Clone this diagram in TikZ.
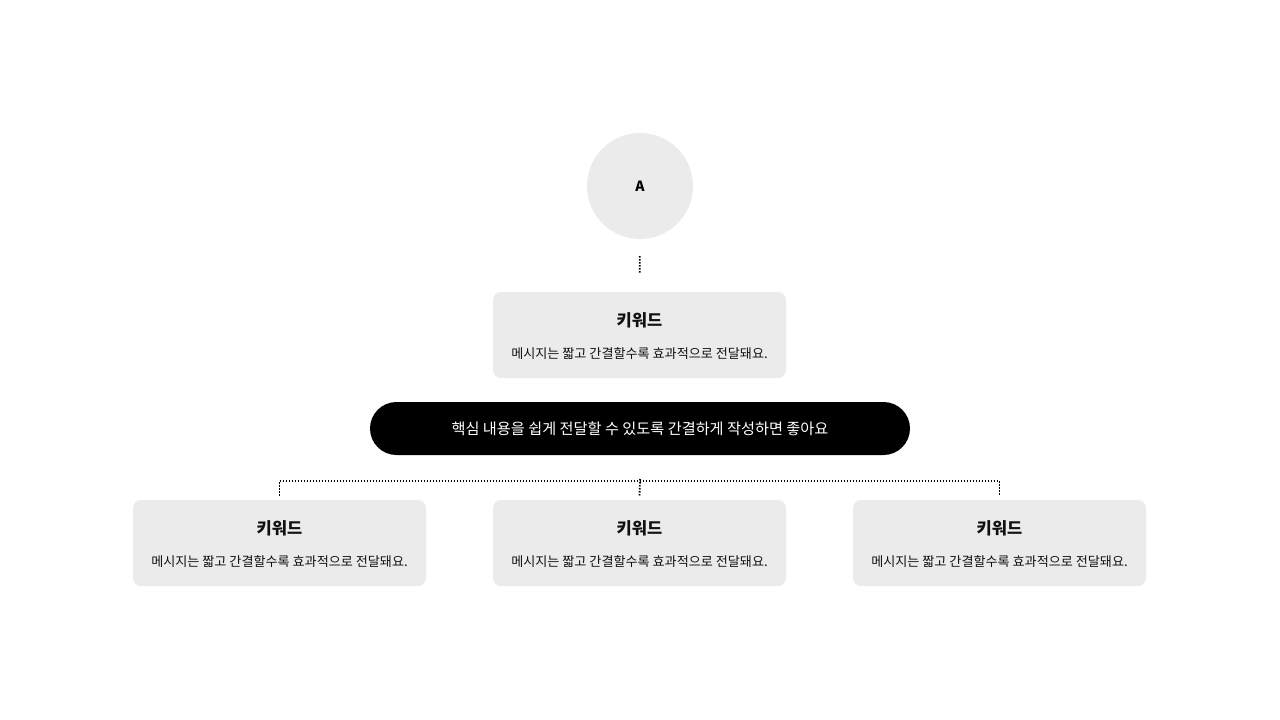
\documentclass[tikz,border=0pt]{standalone}
\usepackage{fontspec}
\setmainfont{Noto Sans CJK KR}
\definecolor{boxgray}{HTML}{EBEBEB}
\definecolor{txt}{HTML}{111111}
\tikzset{
  card/.style={fill=boxgray, rounded corners=8pt, minimum width=293pt, minimum height=86pt, inner sep=0pt},
  dotline/.style={line width=1.8pt, dash pattern=on 1.5pt off 1.5pt, black},
  ttl/.style={font=\fontsize{16.5}{18}\selectfont\bfseries, text=txt, inner sep=0pt},
  bdy/.style={font=\fontsize{13.1}{15}\selectfont, text=txt, inner sep=0pt},
}
\begin{document}
\begin{tikzpicture}[x=1pt,y=-1pt]
\useasboundingbox (0,0) rectangle (1280,720);
\fill[white] (0,0) rectangle (1280,720);
% circle
\node[circle, fill=boxgray, minimum size=106pt, inner sep=0pt, font=\fontsize{14}{16}\selectfont\bfseries] (circ) at (640,186) {A};
% top card
\node[card] (top) at (639.5,335) {};
\node[ttl] (topt) at (639.5,320) {키워드};
\node[bdy] (topb) at (639.5,353.5) {메시지는 짧고 간결할수록 효과적으로 전달돼요.};
% pill
\node[fill=black, rounded corners=26.5pt, minimum width=540pt, minimum height=53pt, inner sep=0pt] (pill) at (640,428.5) {};
\node[font=\fontsize{15.2}{17}\selectfont, text=white, inner sep=0pt] (pillt) at (640,428.5) {핵심 내용을 쉽게 전달할 수 있도록 간결하게 작성하면 좋아요};
% bottom cards
\foreach \i/\x in {1/279.5, 2/639.5, 3/999.5}{
  \node[card] (b\i) at (\x,543) {};
  \node[ttl] (b\i t) at (\x,528) {키워드};
  \node[bdy] (b\i b) at (\x,561.5) {메시지는 짧고 간결할수록 효과적으로 전달돼요.};
}
% connectors
\draw[dotline, shorten <=17pt, shorten >=19pt] (circ.south) -- (top.north);
\coordinate (bus) at (640,481);
\draw[dotline] ([yshift=4pt]b1.north) -- (b1.north |- bus) -- (b3.north |- bus) -- ([yshift=4pt]b3.north);
\draw[dotline] ([yshift=2pt]bus) -- ([yshift=4pt]b2.north);
\end{tikzpicture}
\end{document}
